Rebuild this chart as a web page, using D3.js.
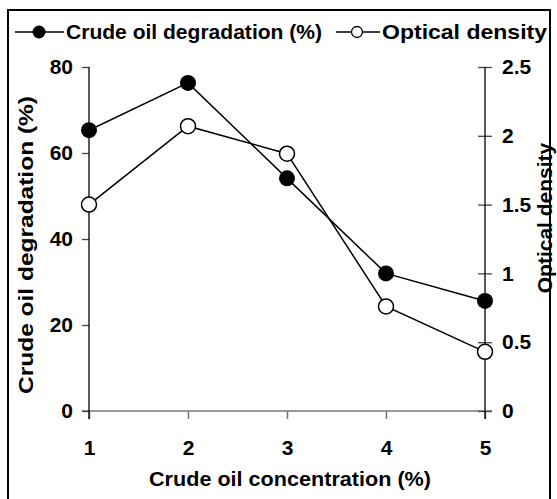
<!DOCTYPE html>
<html><head><meta charset="utf-8">
<script src="https://cdn.jsdelivr.net/npm/d3@7"></script>
<style>body{margin:0;background:#fff}svg{display:block}text{font-family:"Liberation Sans",Arial,sans-serif;font-weight:bold;fill:#000}</style>
</head><body>
<script>
const concentrations = [1, 2, 3, 4, 5];
const degradation = [65.3, 76.3, 54.1, 32.0, 25.6];
const opticalDensity = [1.50, 2.07, 1.87, 0.76, 0.43];
const leftTicks = [0, 20, 40, 60, 80];
const rightTicks = [0, 0.5, 1, 1.5, 2, 2.5];
const seriesNames = ["Crude oil degradation (%)", "Optical density"];
const xTitle = "Crude oil concentration (%)";

const W = 557, H = 499;
const svg = d3.select("body").append("svg").attr("width", W).attr("height", H);
svg.append("rect").attr("x", 8).attr("y", 10).attr("width", 542).attr("height", 500)
  .attr("fill", "none").attr("stroke", "#000").attr("stroke-width", 2);

const L = 89, R = 485, T = 67, B = 411;
const x = d3.scaleLinear().domain([1, 5]).range([L, R]);
const yL = d3.scaleLinear().domain([0, 80]).range([B, T]);
const yR = d3.scaleLinear().domain([0, 2.5]).range([B, T]);
const fs = 21;

function styleText(g) {
  g.selectAll("text").attr("font-size", fs).attr("font-family", "Liberation Sans").attr("font-weight", "bold").attr("fill", "#000");
}

// x axis
const gx = svg.append("g").attr("transform", `translate(0,${B})`)
  .call(d3.axisBottom(x).tickValues(concentrations).tickFormat(d3.format("d")).tickSize(8).tickPadding(21).tickSizeOuter(0));
gx.select(".domain").remove();
gx.append("line").attr("x1", L - 7).attr("x2", R + 7).attr("stroke", "#777").attr("stroke-width", 1.5);
gx.selectAll(".tick line").attr("stroke", "#777").attr("stroke-width", 1.5);
styleText(gx);

// left axis
const gl = svg.append("g").attr("transform", `translate(${L},0)`)
  .call(d3.axisLeft(yL).tickValues(leftTicks).tickSize(7).tickPadding(9).tickSizeOuter(0));
gl.select(".domain").remove();
gl.append("line").attr("y1", T).attr("y2", B + 8).attr("stroke", "#000").attr("stroke-width", 1.3);
gl.selectAll(".tick line").attr("stroke", "#444").attr("stroke-width", 1.3);
styleText(gl);

// right axis
const gr = svg.append("g").attr("transform", `translate(${R},0)`)
  .call(d3.axisRight(yR).tickValues(rightTicks).tickFormat(d => String(d)).tickSize(7).tickPadding(10).tickSizeOuter(0));
gr.select(".domain").remove();
gr.selectAll(".tick line").attr("x1", -7).attr("x2", 7).attr("stroke", "#444").attr("stroke-width", 1.3);
gr.append("line").attr("y1", T).attr("y2", B + 8).attr("stroke", "#000").attr("stroke-width", 1.3);
styleText(gr);

// titles
svg.append("text").attr("x", 290).attr("y", 486).attr("text-anchor", "middle").attr("font-size", fs)
  .attr("textLength", 282).attr("lengthAdjust", "spacingAndGlyphs").text(xTitle);
svg.append("text").attr("transform", "translate(33,245) rotate(-90)").attr("text-anchor", "middle").attr("font-size", fs)
  .attr("textLength", 298).attr("lengthAdjust", "spacingAndGlyphs").text(seriesNames[0]);
svg.append("text").attr("transform", "translate(552,218) rotate(-90)").attr("text-anchor", "middle").attr("font-size", fs).text(seriesNames[1]);

// lines
const lineL = d3.line().x((d, i) => x(concentrations[i])).y(d => yL(d));
const lineR = d3.line().x((d, i) => x(concentrations[i])).y(d => yR(d));
svg.append("path").attr("d", lineL(degradation)).attr("fill", "none").attr("stroke", "#000").attr("stroke-width", 1.5);
svg.append("path").attr("d", lineR(opticalDensity)).attr("fill", "none").attr("stroke", "#000").attr("stroke-width", 1.5);
svg.selectAll(".pf").data(degradation).enter().append("circle")
  .attr("cx", (d, i) => x(concentrations[i])).attr("cy", d => yL(d)).attr("r", 8).attr("fill", "#000");
svg.selectAll(".po").data(opticalDensity).enter().append("circle")
  .attr("cx", (d, i) => x(concentrations[i])).attr("cy", d => yR(d)).attr("r", 7.5).attr("fill", "#fff").attr("stroke", "#000").attr("stroke-width", 1.5);

// legend
const lg = svg.append("g");
lg.append("line").attr("x1", 15).attr("x2", 64).attr("y1", 32).attr("y2", 32).attr("stroke", "#000").attr("stroke-width", 1.5);
lg.append("circle").attr("cx", 39).attr("cy", 32).attr("r", 6.5).attr("fill", "#000");
lg.append("text").attr("x", 66).attr("y", 39).attr("font-size", fs)
  .attr("textLength", 256).attr("lengthAdjust", "spacingAndGlyphs").text(seriesNames[0]);
lg.append("line").attr("x1", 336).attr("x2", 380).attr("y1", 32).attr("y2", 32).attr("stroke", "#000").attr("stroke-width", 1.5);
lg.append("circle").attr("cx", 357).attr("cy", 32).attr("r", 5.5).attr("fill", "#fff").attr("stroke", "#000").attr("stroke-width", 1.3);
lg.append("text").attr("x", 382).attr("y", 39).attr("font-size", fs)
  .attr("textLength", 165).attr("lengthAdjust", "spacingAndGlyphs").text(seriesNames[1]);
</script>
</body></html>
